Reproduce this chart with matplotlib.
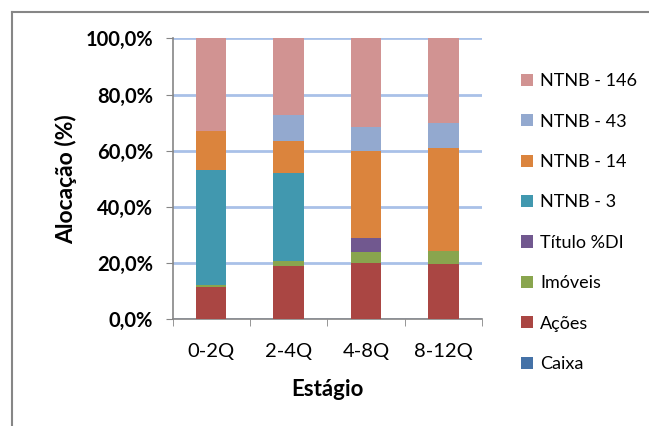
import numpy as np
import matplotlib.pyplot as plt
from matplotlib.lines import Line2D

plt.rcParams['font.family'] = ['Lato', 'DejaVu Sans']

# dados (% de alocacao por estagio)
estagios = ['0-2Q', '2-4Q', '4-8Q', '8-12Q']
series = ['Caixa', 'Ações', 'Imóveis', 'Título %DI', 'NTNB - 3',
          'NTNB - 14', 'NTNB - 43', 'NTNB - 146']
caixa = [0.0, 0.0, 0.0, 0.0]
acoes = [11.4, 19.1, 19.9, 19.6]
imoveis = [0.8, 1.7, 4.2, 4.8]
titulo_di = [0.0, 0.0, 4.8, 0.0]
ntnb_3 = [40.8, 31.4, 0.0, 0.0]
ntnb_14 = [14.0, 11.1, 31.1, 36.5]
ntnb_43 = [0.0, 9.3, 8.4, 8.9]
ntnb_146 = [33.0, 27.4, 31.6, 30.2]
cores = ['#4572A7', '#AA4643', '#89A54E', '#71588F', '#4198AF',
         '#DB843D', '#93A9CF', '#D19392']

valores = [caixa, acoes, imoveis, titulo_di, ntnb_3, ntnb_14, ntnb_43, ntnb_146]

fig = plt.figure(figsize=(6.49, 4.26), dpi=100)
ax = fig.add_axes([0.2658, 0.2505, 0.4769, 0.6595])

x = np.arange(len(estagios))
base = np.zeros(len(estagios))
for nome, v, c in zip(series, valores, cores):
    ax.bar(x, v, bottom=base, width=0.395, color=c, label=nome, zorder=3)
    base = base + np.array(v)

ax.set_xlim(-0.5, len(estagios) - 0.5)
ax.set_ylim(0, 100)
ax.set_yticks(np.arange(0, 101, 20))
ax.yaxis.set_major_formatter(plt.FuncFormatter(lambda v, p: ('%.1f%%' % v).replace('.', ',')))
for t in ax.get_yticklabels():
    t.set_fontweight('bold')
    t.set_fontsize(14.5)
ax.grid(axis='y', color='#A9C1E8', linewidth=2, zorder=0)

ax.set_xticks(x)
ax.set_xticklabels(estagios, fontsize=14.5)
ax.set_xticks(np.arange(-0.5, len(estagios)), minor=True)
ax.tick_params(axis='x', which='major', length=0, pad=17)
ax.tick_params(axis='x', which='minor', length=5, color='#868686')
ax.tick_params(axis='y', length=5, color='#868686', pad=9)

for s in ['top', 'right']:
    ax.spines[s].set_visible(False)
for s in ['left', 'bottom']:
    ax.spines[s].set_color('#868686')
    ax.spines[s].set_linewidth(1.2)

ax.set_xlabel('Estágio', fontweight='bold', fontsize=16)
ax.set_ylabel('Alocação (%)', fontweight='bold', fontsize=16.5)
ax.xaxis.set_label_coords(0.5, -0.25)
ax.yaxis.set_label_coords(-0.345, 0.5)
ax.xaxis.label.set_va('center')
ax.yaxis.label.set_va('center')

handles, labels = ax.get_legend_handles_labels()
leg = fig.legend(handles[::-1], labels[::-1], loc='upper left',
                 bbox_to_anchor=(0.778, 0.866), frameon=False, fontsize=13,
                 handlelength=0.65, handleheight=0.65, handletextpad=0.4,
                 labelspacing=1.35)

# moldura do grafico (so esquerda e topo aparecem)
fig.add_artist(Line2D([12 / 649, 12 / 649], [0, 1 - 12 / 426], transform=fig.transFigure,
                      color='#868686', linewidth=1.5))
fig.add_artist(Line2D([12 / 649, 1], [1 - 12 / 426, 1 - 12 / 426], transform=fig.transFigure,
                      color='#868686', linewidth=1.5))

fig.savefig('out.png', dpi=100)
